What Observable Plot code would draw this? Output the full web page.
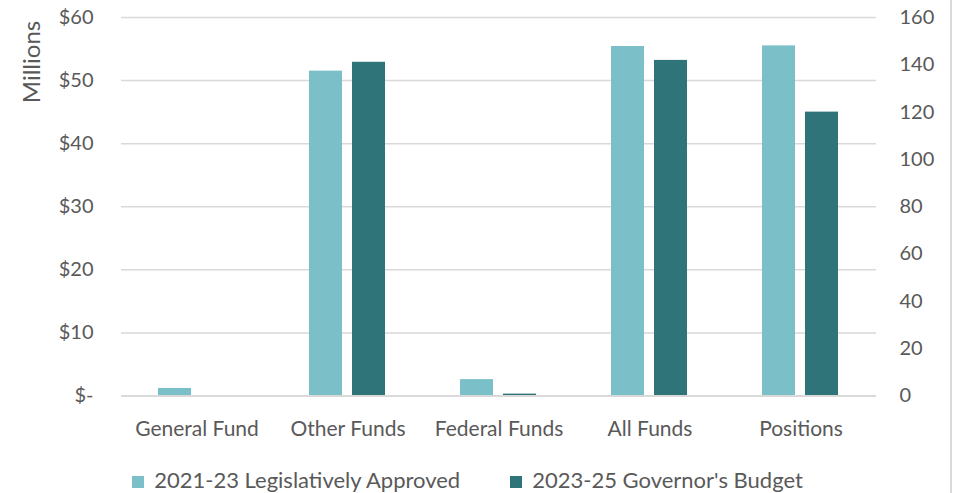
<!DOCTYPE html>
<html><head><meta charset="utf-8">
<script src="https://cdn.jsdelivr.net/npm/d3@7"></script>
<script src="https://cdn.jsdelivr.net/npm/@observablehq/plot@0.6"></script>
<style>
body{margin:0;background:#fff;font-family:Lato,sans-serif;}
#wrap{position:relative;width:955px;height:493px;}
#legend{position:absolute;left:0;top:466px;width:935px;display:flex;justify-content:center;gap:50px;font-size:22px;color:#595959;}
#legend span.sw{display:inline-block;width:12px;height:12px;margin-right:10px;vertical-align:0px;}
#border{position:absolute;left:950px;top:0;width:2px;height:493px;background:#d9d9d9;}
</style></head>
<body><div id="wrap"><div id="chart"></div><div id="legend"></div><div id="border"></div></div>
<script>
const categories = ["General Fund","Other Funds","Federal Funds","All Funds","Positions"];
const seriesNames = ["2021-23 Legislatively Approved","2023-25 Governor's Budget"];
const approved2123 = [1.2, 51.5, 2.6, 55.4, 148];   // $M, last = positions
const governor2325 = [0, 52.9, 0.3, 53.2, 120];
const leftTicks = [0,10,20,30,40,50,60];
const rightTicks = [0,20,40,60,80,100,120,140,160];
const colors = ["#7BC0C8","#2E7479"];

const posScale = 60/160;
const data = [];
categories.forEach((c,i)=>{
  [approved2123, governor2325].forEach((arr,j)=>{
    const v = arr[i];
    data.push({cat:c, series:seriesNames[j], value: c==="Positions" ? v*posScale : v});
  });
});

const chart = Plot.plot({
  width: 955, height: 440,
  marginLeft: 121, marginRight: 79, marginTop: 17, marginBottom: 44.5,
  style:{fontFamily:"Lato, sans-serif", fontSize:"20px", color:"#595959", background:"#fff", overflow:"visible"},
  fx:{domain:categories, padding:0, label:null, axis:null},
  x:{domain:seriesNames, paddingInner:0.227, paddingOuter:0.83, axis:null},
  y:{domain:[0,60], label:null},
  color:{domain:seriesNames, range:colors},
  marks:[
    Plot.ruleY(leftTicks.slice(1), {stroke:"#d9d9d9", strokeWidth:1.5}),
    Plot.barY(data, {fx:"cat", x:"series", y:"value", fill:"series"}),
    Plot.ruleY([0], {stroke:"#d9d9d9", strokeWidth:2}),
    Plot.axisY(leftTicks, {anchor:"left", tickSize:0, tickPadding:28, label:null,
      tickFormat: d => d===0 ? "$-" : "$"+d, fontSize:20, fill:"#595959"}),
    Plot.axisY(rightTicks.map(t=>t*posScale), {anchor:"right", tickSize:0, tickPadding:23, label:null,
      tickFormat: d => String(Math.round(d/posScale)), fontSize:20, fill:"#595959", textAnchor:"start"}),
    Plot.axisFx({anchor:"bottom", tickSize:0, tickPadding:25, label:null, fontSize:21, fill:"#595959"})
  ]
});
document.getElementById("chart").appendChild(chart);

// "Millions" axis title
const svg = d3.select(chart);
svg.append("text").attr("transform","translate(40,62) rotate(-90)")
  .attr("text-anchor","middle").attr("font-size","24px").attr("fill","#595959")
  .attr("font-family","Lato, sans-serif").text("Millions");

const lg = document.getElementById("legend");
seriesNames.forEach((s,i)=>{
  const d = document.createElement("div");
  d.innerHTML = `<span class="sw" style="background:${colors[i]}"></span>${s}`;
  lg.appendChild(d);
});
</script></body></html>
